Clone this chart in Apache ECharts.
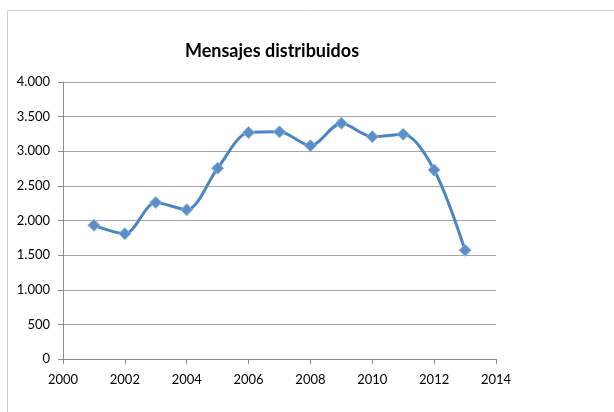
<!DOCTYPE html>
<html><head><meta charset="utf-8">
<script src="https://cdn.jsdelivr.net/npm/echarts@6/dist/echarts.min.js"></script>
<style>html,body{margin:0;padding:0;background:#fff}#c{width:614px;height:412px}</style>
</head><body><div id="c"></div>
<script>
var years = [2001,2002,2003,2004,2005,2006,2007,2008,2009,2010,2011,2012,2013];
var mensajes = [1930,1810,2260,2155,2755,3270,3280,3080,3405,3210,3245,2730,1570];
var titleText = 'Mensajes distribuidos';

var chart = echarts.init(document.getElementById('c'));
function fmt(v){ return String(v).replace(/\B(?=(\d{3})+(?!\d))/g,'.'); }
chart.setOption({
  animation:false,
  backgroundColor:'#fff',
  graphic:[{type:'rect',shape:{x:7.5,y:10.5,width:700,height:500},style:{fill:'none',stroke:'#d0d0d0',lineWidth:1},silent:true}],
  title:{text:titleText,left:267,top:37,textAlign:'center',textStyle:{fontFamily:'Lato',fontWeight:'bold',fontSize:18,color:'#000'}},
  grid:{left:63,right:118,top:82,bottom:53,containLabel:false},
  xAxis:{type:'value',min:2000,max:2014,interval:2,
    axisLine:{show:true,lineStyle:{color:'#8c8c8c',width:1}},
    axisTick:{show:true,length:5,lineStyle:{color:'#8c8c8c'}},
    axisLabel:{fontFamily:'Lato',fontSize:13,color:'#000',margin:14,formatter:function(v){return String(v);}},
    splitLine:{show:false}},
  yAxis:{type:'value',min:0,max:4000,interval:500,
    axisLine:{show:true,lineStyle:{color:'#8c8c8c',width:1}},
    axisTick:{show:true,length:5,lineStyle:{color:'#8c8c8c'}},
    axisLabel:{fontFamily:'Lato',fontSize:13,color:'#000',margin:13,formatter:fmt},
    splitLine:{show:true,lineStyle:{color:'#a6a6a6',width:1}}},
  series:[{type:'line',data:years.map(function(y,i){return [y,mensajes[i]];}),
    smooth:0.3,symbol:'diamond',symbolSize:12,
    lineStyle:{color:'#4a86c5',width:3},
    itemStyle:{color:'#5b8fc9',borderColor:'#8fb4dd',borderWidth:1}}]
});
</script></body></html>
